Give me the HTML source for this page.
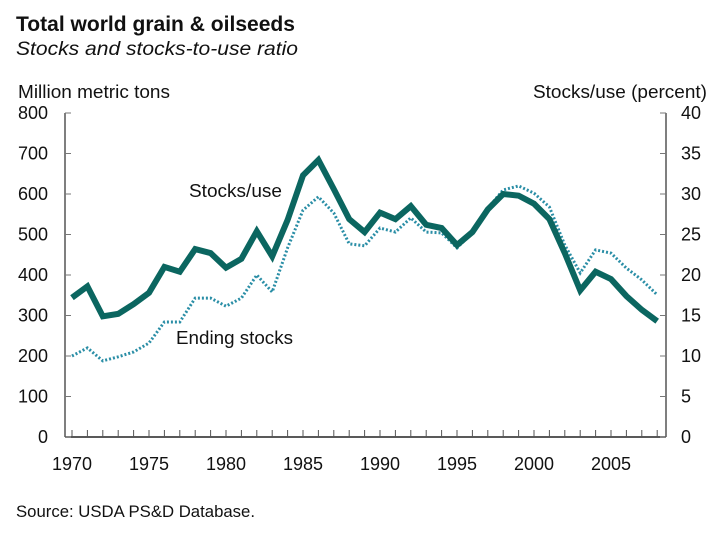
<!DOCTYPE html>
<html><head><meta charset="utf-8"><style>
body{margin:0;background:#fff;width:720px;height:540px;overflow:hidden;font-family:"Liberation Sans",sans-serif}
svg text{font-family:"Liberation Sans",sans-serif;fill:#111}
</style></head><body>
<svg id="chart" width="720" height="540">
<text x="16" y="31" font-size="21" font-weight="bold" textLength="279" lengthAdjust="spacingAndGlyphs">Total world grain &amp; oilseeds</text>
<text x="16" y="55" font-size="19" font-style="italic" textLength="282" lengthAdjust="spacingAndGlyphs">Stocks and stocks-to-use ratio</text>
<text x="18" y="98" font-size="18" textLength="152" lengthAdjust="spacingAndGlyphs">Million metric tons</text>
<text x="533" y="98" font-size="18" textLength="174" lengthAdjust="spacingAndGlyphs">Stocks/use (percent)</text>
<text x="16" y="517" font-size="17" textLength="239" lengthAdjust="spacingAndGlyphs">Source: USDA PS&amp;D Database.</text>
<g id="axes"></g>
<g id="series"></g>
<text x="189" y="197" font-size="18" textLength="93" lengthAdjust="spacingAndGlyphs">Stocks/use</text>
<text x="176" y="344" font-size="18" textLength="117" lengthAdjust="spacingAndGlyphs">Ending stocks</text>
</svg>
<script>
const years=[];for(let y=1970;y<=2008;y++)years.push(y);
const stocksUse=[17.2,18.6,14.9,15.2,16.4,17.8,21.0,20.4,23.2,22.7,20.9,22.0,25.4,22.3,26.8,32.3,34.2,30.6,26.9,25.3,27.7,26.9,28.5,26.2,25.8,23.7,25.3,28.1,30.0,29.8,28.8,26.9,22.7,18.1,20.4,19.5,17.4,15.7,14.3];
const endingStocks=[200,220,188,198,210,232,284,284,343,343,323,343,400,358,467,560,593,553,477,472,516,506,541,506,504,467,504,565,610,620,602,568,474,405,462,454,417,388,351];
const leftTicks=[0,100,200,300,400,500,600,700,800];
const rightTicks=[0,5,10,15,20,25,30,35,40];
const yearLabels=[1970,1975,1980,1985,1990,1995,2000,2005];
const NS='http://www.w3.org/2000/svg';
const X=y=>72+(y-1970)*15.4;
const YL=v=>437-v*0.405;
const YR=p=>437-p*8.1;
const axes=document.getElementById('axes'),series=document.getElementById('series');
function mk(tag,attrs,parent){const e=document.createElementNS(NS,tag);for(const k in attrs)e.setAttribute(k,attrs[k]);parent.appendChild(e);return e;}
let e;
e=mk('line',{x1:65,y1:113,x2:65,y2:437,stroke:'#555','stroke-width':1.5},axes);


e=mk('line',{x1:666,y1:113,x2:666,y2:437,stroke:'#555','stroke-width':1.5},axes);


e=mk('line',{x1:65,y1:437,x2:666,y2:437,stroke:'#222','stroke-width':1.5},axes);


leftTicks.forEach(v=>{
 mk('line',{x1:65,x2:71,y1:YL(v),y2:YL(v),stroke:'#777'},axes);
 e=mk('text',{x:48,y:YL(v)+6,'font-size':18,'text-anchor':'end'},axes);e.textContent=v;
 
 
});
rightTicks.forEach(v=>{
 mk('line',{x1:660,x2:666,y1:YR(v),y2:YR(v),stroke:'#777'},axes);
 e=mk('text',{x:681,y:YR(v)+6,'font-size':18},axes);e.textContent=v;
 
 
});
years.forEach(y=>{mk('line',{x1:X(y),x2:X(y),y1:430,y2:437,stroke:'#555'},axes);});
yearLabels.forEach(y=>{
 e=mk('text',{x:X(y),y:470,'font-size':18,'text-anchor':'middle'},axes);e.textContent=y;
 
 
});
e=mk('polyline',{points:years.map((y,i)=>X(y)+','+YL(endingStocks[i])).join(' '),fill:'none',stroke:'#2a8ea6','stroke-width':3,'stroke-dasharray':'2,2'},series);


e=mk('polyline',{points:years.map((y,i)=>X(y)+','+YR(stocksUse[i])).join(' '),fill:'none',stroke:'#0b6660','stroke-width':6,'stroke-linejoin':'miter'},series);


</script>
</body></html>
